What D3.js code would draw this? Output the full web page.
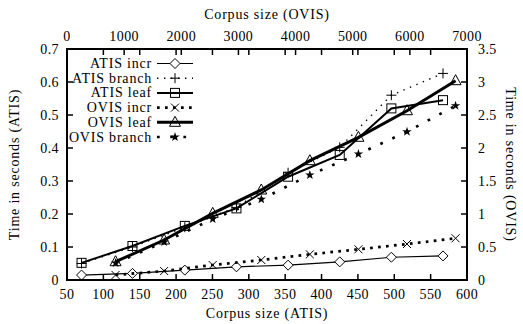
<!DOCTYPE html>
<html>
<head>
<meta charset="utf-8">
<script src="https://cdn.jsdelivr.net/npm/d3@7"></script>
<style>
  body { margin: 0; background: #fff; }
  text { font-family: "Liberation Serif", serif; fill: #000; }
</style>
</head>
<body>
<div id="chart"></div>
<script>
// corpus sizes
const atisSizes = [70, 140, 212, 283, 354, 425, 496, 567];
const ovisSizes = [850, 1700, 2550, 3400, 4250, 5100, 5950, 6800];

// timings (seconds)
const atisIncr   = [0.015, 0.020, 0.030, 0.040, 0.045, 0.055, 0.069, 0.073];
const atisBranch = [0.050, 0.100, 0.160, 0.220, 0.325, 0.402, 0.560, 0.626];
const atisLeaf   = [0.052, 0.103, 0.164, 0.217, 0.313, 0.379, 0.520, 0.545];
const ovisIncr   = [0.076, 0.136, 0.227, 0.303, 0.389, 0.465, 0.545, 0.632];
const ovisLeaf   = [0.277, 0.606, 1.010, 1.364, 1.808, 2.162, 2.565, 3.020];
const ovisBranch = [0.258, 0.576, 0.924, 1.223, 1.591, 1.909, 2.247, 2.641];

const atisXTicks = d3.range(50, 601, 50);
const atisYTicks = d3.range(0, 0.71, 0.1);
const ovisXTicks = d3.range(0, 7001, 1000);
const ovisYTicks = d3.range(0, 3.51, 0.5);

const W = 523, H = 324;
const margin = {top: 49, right: 56, bottom: 44, left: 67};
const x1 = d3.scaleLinear().domain([50, 600]).range([margin.left, W - margin.right]);
const y1 = d3.scaleLinear().domain([0, 0.7]).range([H - margin.bottom, margin.top]);
const x2 = d3.scaleLinear().domain([0, 7000]).range([margin.left, W - margin.right]);
const y2 = d3.scaleLinear().domain([0, 3.5]).range([H - margin.bottom, margin.top]);

const svg = d3.select("#chart").append("svg")
  .attr("width", W).attr("height", H);

const series = [
  {name: "ATIS incr",   xs: atisSizes, ys: atisIncr,   x: x1, y: y1, sym: "diamond", w: 1.2, dash: null},
  {name: "ATIS branch", xs: atisSizes, ys: atisBranch, x: x1, y: y1, sym: "plus",    w: 1.4, dash: "1.4,5.6"},
  {name: "ATIS leaf",   xs: atisSizes, ys: atisLeaf,   x: x1, y: y1, sym: "square",  w: 2,   dash: null},
  {name: "OVIS incr",   xs: ovisSizes, ys: ovisIncr,   x: x2, y: y2, sym: "cross",   w: 2.7, dash: "2.7,5.3"},
  {name: "OVIS leaf",   xs: ovisSizes, ys: ovisLeaf,   x: x2, y: y2, sym: "triangle",w: 3,   dash: null},
  {name: "OVIS branch", xs: ovisSizes, ys: ovisBranch, x: x2, y: y2, sym: "star",    w: 2.7, dash: "2.7,10.5"}
];

function drawMarker(g, sym, cx, cy) {
  if (sym === "diamond") {
    g.append("path").attr("d", `M${cx},${cy-5}L${cx+5},${cy}L${cx},${cy+5}L${cx-5},${cy}Z`)
      .attr("fill", "#fff").attr("stroke", "#000").attr("stroke-width", 1);
  } else if (sym === "plus") {
    g.append("path").attr("d", `M${cx-5},${cy}H${cx+5}M${cx},${cy-5}V${cy+5}`)
      .attr("stroke", "#000").attr("stroke-width", 1);
  } else if (sym === "square") {
    g.append("rect").attr("x", cx - 4.5).attr("y", cy - 4.5).attr("width", 9).attr("height", 9)
      .attr("fill", "none").attr("stroke", "#000").attr("stroke-width", 1);
  } else if (sym === "cross") {
    g.append("path").attr("d", `M${cx-4},${cy-4}L${cx+4},${cy+4}M${cx-4},${cy+4}L${cx+4},${cy-4}`)
      .attr("stroke", "#000").attr("stroke-width", 1);
  } else if (sym === "triangle") {
    g.append("path").attr("d", `M${cx},${cy-6}L${cx+5.5},${cy+4}L${cx-5.5},${cy+4}Z`)
      .attr("fill", "none").attr("stroke", "#000").attr("stroke-width", 1);
  } else if (sym === "star") {
    g.append("path").attr("d", d3.symbol(d3.symbolStar, 28)())
      .attr("transform", `translate(${cx},${cy})`).attr("fill", "#000");
  }
}

// ticks
const tk = svg.append("g").attr("stroke", "#000").attr("stroke-width", 1.5);
const yb = y1(0), yt = y1(0.7), xl = x1(50), xr = x1(600);
atisXTicks.forEach(v => {
  tk.append("line").attr("x1", x1(v)).attr("x2", x1(v)).attr("y1", yb).attr("y2", yb - 6);
  tk.append("line").attr("x1", x1(v)).attr("x2", x1(v)).attr("y1", yt).attr("y2", yt + 6);
});
ovisXTicks.forEach(v => {
  tk.append("line").attr("x1", x2(v)).attr("x2", x2(v)).attr("y1", yt).attr("y2", yt + 6);
});
atisYTicks.forEach(v => {
  tk.append("line").attr("x1", xl).attr("x2", xl + 6).attr("y1", y1(v)).attr("y2", y1(v));
});
ovisYTicks.forEach(v => {
  tk.append("line").attr("x1", xr).attr("x2", xr - 6).attr("y1", y2(v)).attr("y2", y2(v));
});

// tick labels
const fs = 14;
const numSp = "0.4px", wordSp = "0.8px";
svg.append("g").selectAll("text").data(atisXTicks).join("text")
  .attr("x", d => x1(d)).attr("y", yb + 19).attr("text-anchor", "middle")
  .attr("font-size", fs).attr("letter-spacing", numSp).text(d => d);
svg.append("g").selectAll("text").data(ovisXTicks).join("text")
  .attr("x", d => x2(d)).attr("y", yt - 8).attr("text-anchor", "middle")
  .attr("font-size", fs).attr("letter-spacing", numSp).text(d => d);
svg.append("g").selectAll("text").data(atisYTicks).join("text")
  .attr("x", xl - 8).attr("y", d => y1(d) + 5).attr("text-anchor", "end")
  .attr("font-size", fs).attr("letter-spacing", numSp).text(d => d3.format(".1~f")(d));
svg.append("g").selectAll("text").data(ovisYTicks).join("text")
  .attr("x", xr + 11).attr("y", d => y2(d) + 5).attr("text-anchor", "start")
  .attr("font-size", fs).attr("letter-spacing", numSp).text(d => d3.format(".1~f")(d));

// axis titles
const cx = (xl + xr) / 2, cy = (yt + yb) / 2;
svg.append("text").attr("x", cx).attr("y", 318).attr("text-anchor", "middle")
  .attr("font-size", fs).attr("letter-spacing", wordSp).text("Corpus size (ATIS)");
svg.append("text").attr("x", cx).attr("y", 19).attr("text-anchor", "middle")
  .attr("font-size", fs).attr("letter-spacing", wordSp).text("Corpus size (OVIS)");
svg.append("text").attr("transform", `translate(19,${cy}) rotate(-90)`).attr("text-anchor", "middle")
  .attr("font-size", fs).attr("letter-spacing", wordSp).text("Time in seconds (ATIS)");
svg.append("text").attr("transform", `translate(506,${cy}) rotate(90)`).attr("text-anchor", "middle")
  .attr("font-size", fs).attr("letter-spacing", wordSp).text("Time in seconds (OVIS)");

// series lines + markers
series.forEach(s => {
  const pts = s.xs.map((v, i) => [s.x(v), s.y(s.ys[i])]);
  svg.append("path").attr("d", d3.line()(pts))
    .attr("fill", "none").attr("stroke", "#000").attr("stroke-width", s.w)
    .attr("stroke-dasharray", s.dash);
  const mg = svg.append("g");
  pts.forEach(p => drawMarker(mg, s.sym, p[0], p[1]));
});

// legend
const lg = svg.append("g");
series.forEach((s, i) => {
  const ly = 63.5 + i * 14.7;
  lg.append("text").attr("x", 152).attr("y", ly + 4.5).attr("text-anchor", "end")
    .attr("font-size", fs).attr("letter-spacing", wordSp).text(s.name);
  lg.append("line").attr("x1", 157).attr("x2", 193).attr("y1", ly).attr("y2", ly)
    .attr("stroke", "#000").attr("stroke-width", s.w).attr("stroke-dasharray", s.dash);
  drawMarker(lg, s.sym, 175, ly);
});

// frame
svg.append("rect").attr("x", xl).attr("y", yt).attr("width", xr - xl).attr("height", yb - yt)
  .attr("fill", "none").attr("stroke", "#000").attr("stroke-width", 2);
</script>
</body>
</html>
